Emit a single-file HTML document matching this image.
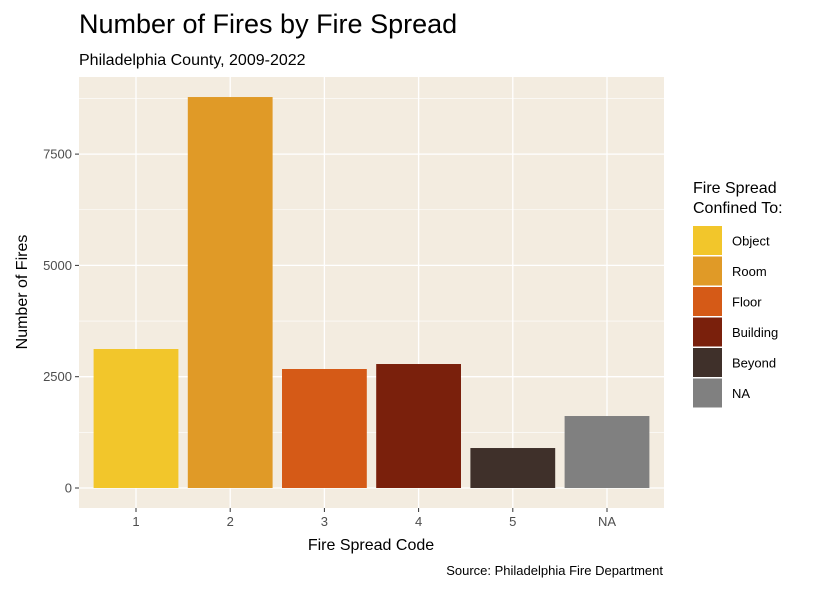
<!DOCTYPE html>
<html><head><meta charset="utf-8"><style>
body{margin:0;background:#fff;font-family:"Liberation Sans",sans-serif;}
svg text{font-family:"Liberation Sans",sans-serif;}
</style></head><body>
<svg id="chart" width="823" height="587" viewBox="0 0 823 587" xmlns="http://www.w3.org/2000/svg">
<text x="79" y="33" font-size="27" fill="#000">Number of Fires by Fire Spread</text>
<text x="79" y="65" font-size="16" fill="#000">Philadelphia County, 2009-2022</text>
<rect x="79" y="77" width="585" height="431" fill="#f3ece0"/>
<g id="grid"></g><g id="bars"></g><g id="axes"></g>
<text x="371" y="550" font-size="16" text-anchor="middle">Fire Spread Code</text>
<text transform="translate(27,292) rotate(-90)" font-size="16" text-anchor="middle">Number of Fires</text>
<text x="663" y="575" font-size="13" text-anchor="end">Source: Philadelphia Fire Department</text>
<text x="693" y="193" font-size="16">Fire Spread</text>
<text x="693" y="213" font-size="16">Confined To:</text>
<g id="legend"></g>
</svg>
<script>
const categories=["1","2","3","4","5","NA"];
const values=[3122,8782,2673,2785,898,1617];
const legendLabels=["Object","Room","Floor","Building","Beyond","NA"];
const colors=["#f2c62b","#e09a27","#d55a17","#7a200c","#3f302a","#808080"];
const yTicks=[0,2500,5000,7500];
const NS="http://www.w3.org/2000/svg";
const X0=79,X1=664,Y0=77,Y1=508;
function y(v){return 488-v*111.3/2500;}
function x(i){return 136+i*94.2;}
function mk(tag,attrs,parent,txt){const e=document.createElementNS(NS,tag);for(const k in attrs)e.setAttribute(k,attrs[k]);if(txt!==undefined)e.textContent=txt;document.getElementById(parent).appendChild(e);return e;}
for(let v=1250;v<=8750;v+=2500){const l=mk("line",{x1:X0,x2:X1,y1:y(v),y2:y(v),stroke:"#fff","stroke-width":0.6},"grid");

}
yTicks.forEach(v=>{const l=mk("line",{x1:X0,x2:X1,y1:y(v),y2:y(v),stroke:"#fff","stroke-width":1.3},"grid");


const t=mk("line",{x1:X0-4,x2:X0,y1:y(v),y2:y(v),stroke:"#333","stroke-width":1},"axes");


const tx=mk("text",{x:X0-7,y:y(v)+4.5,"font-size":13,fill:"#4d4d4d","text-anchor":"end"},"axes",String(v));

});
categories.forEach((c,i)=>{const l=mk("line",{x1:x(i),x2:x(i),y1:Y0,y2:Y1,stroke:"#fff","stroke-width":1.3},"grid");


const b=mk("rect",{x:x(i)-42.4,width:84.8,y:y(values[i]),height:488-y(values[i]),fill:colors[i]},"bars");


const t=mk("line",{x1:x(i),x2:x(i),y1:Y1,y2:Y1+4,stroke:"#333","stroke-width":1},"axes");


const tx=mk("text",{x:x(i),y:Y1+18,"font-size":13,fill:"#4d4d4d","text-anchor":"middle"},"axes",c);

});
legendLabels.forEach((lab,i)=>{const yy=226+i*30.5;
const r=mk("rect",{x:693,y:yy,width:29,height:29,fill:colors[i]},"legend");


const t=mk("text",{x:732,y:yy+19.5,"font-size":13,fill:"#000"},"legend",lab);

});
</script>
</body></html>
